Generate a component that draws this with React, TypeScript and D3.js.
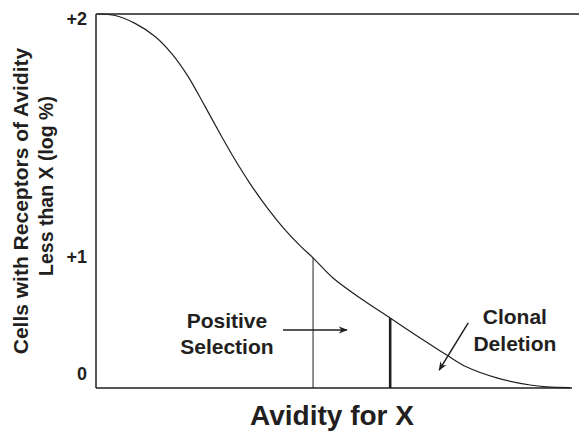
import * as d3 from "d3";

// curve: avidity (0-100) vs position within plot height (0-100)
const avidity = [0.4, 4.0, 8.2, 12.4, 16.0, 19.3, 22.9, 26.5, 28.8, 32.4, 35.9, 39.3, 42.9, 45.6, 49.8, 56.1, 61.8, 68.1, 73.7, 77.9, 84.2, 91.2, 94.7, 99.6];
const cells = [100, 99.6, 97.5, 94.0, 89.3, 83.4, 75.3, 67.0, 61.9, 54.6, 48.3, 42.9, 38.0, 34.8, 29.4, 23.5, 18.7, 13.4, 8.8, 5.6, 2.7, 0.8, 0.3, 0.1];

const yTickLabels = ["+2", "+1", "0"];
const yTickValues = [98.4, 34.8, 3.5];

// selection thresholds (avidity) and their line widths
const thresholds = [45.6, 61.8];
const thresholdWidths = [1, 2.6];

// annotation text + arrows (data units)
const positiveLines = ["Positive", "Selection"];
const positiveAt = [27.5, 16];
const positiveArrow = [[39.3, 15.5], [52.7, 15.5]];
const clonalLines = ["Clonal", "Deletion"];
const clonalAt = [88, 17];
const clonalArrow = [[78.2, 17.4], [72.1, 4.8]];

const W = 579;
const H = 432;
const ink = "#231f20";
const font = "'Liberation Sans', Arial, Helvetica, sans-serif";

export default function App() {
  const margin = { top: 14, right: 7, bottom: 44, left: 96 };
  const x = d3.scaleLinear().domain([0, 100]).range([margin.left, W - margin.right]);
  const y = d3.scaleLinear().domain([0, 100]).range([H - margin.bottom, margin.top]);

  const pts = avidity.map((a, i) => [a, cells[i]] as [number, number]);
  const line = d3.line<[number, number]>()
    .x((d) => x(d[0]))
    .y((d) => y(d[1]))
    .curve(d3.curveCatmullRom.alpha(0.5));

  const x0 = x(0);
  const yTop = y(100);
  const yBot = y(0);

  return (
    <svg width={W} height={H} style={{ position: "absolute", left: 0, top: 0, background: "white" }} fontFamily={font}>
      <defs>
        <marker id="head" viewBox="0 0 10 10" refX="9" refY="5" markerWidth="9" markerHeight="9" markerUnits="userSpaceOnUse" orient="auto">
          <path d="M0,1 L10,5 L0,9 L3,5 Z" fill={ink} />
        </marker>
      </defs>

      {/* frame */}
      <line x1={x0} x2={W} y1={yTop} y2={yTop} stroke={ink} strokeWidth={1.5} />
      <line x1={x0} x2={x0} y1={yTop} y2={yBot} stroke={ink} strokeWidth={1.5} />
      <line x1={x0} x2={x(100)} y1={yBot} y2={yBot} stroke={ink} strokeWidth={1.5} />

      {/* y tick labels */}
      {yTickLabels.map((t, i) => (
        <text key={t} x={x0 - 9} y={y(yTickValues[i])} textAnchor="end" dominantBaseline="middle"
          fontSize={18} fontWeight="bold" fill={ink}>{t}</text>
      ))}

      {/* y title */}
      <g transform={`translate(28,201) rotate(-90)`}>
        <text x={0} y={0} textAnchor="middle" fontSize={21} fontWeight="bold" fill={ink}>
          Cells with Receptors of Avidity
        </text>
      </g>
      <g transform={`translate(53,186) rotate(-90)`}>
        <text x={0} y={0} textAnchor="middle" fontSize={19.5} fontWeight="bold" fill={ink}>
          Less than X (log %)
        </text>
      </g>

      {/* x title */}
      <text x={332} y={425} textAnchor="middle" fontSize={28} fontWeight="bold" fill={ink}>Avidity for X</text>

      {/* curve */}
      <path d={line(pts) ?? ""} fill="none" stroke={ink} strokeWidth={1.2} />

      {/* thresholds */}
      {thresholds.map((t, i) => {
        const idx = avidity.indexOf(t);
        return (
          <line key={t} x1={x(t)} x2={x(t)} y1={yBot} y2={y(cells[idx])} stroke={ink} strokeWidth={thresholdWidths[i]} />
        );
      })}

      {/* annotations */}
      {positiveLines.map((s, i) => (
        <text key={s} x={x(positiveAt[0])} y={y(positiveAt[1]) + i * 26} textAnchor="middle"
          fontSize={21} fontWeight="bold" fill={ink}>{s}</text>
      ))}
      <line x1={x(positiveArrow[0][0])} y1={y(positiveArrow[0][1])} x2={x(positiveArrow[1][0])} y2={y(positiveArrow[1][1])}
        stroke={ink} strokeWidth={1.5} markerEnd="url(#head)" />

      {clonalLines.map((s, i) => (
        <text key={s} x={x(clonalAt[0])} y={y(clonalAt[1]) + i * 27} textAnchor="middle"
          fontSize={21} fontWeight="bold" fill={ink}>{s}</text>
      ))}
      <line x1={x(clonalArrow[0][0])} y1={y(clonalArrow[0][1])} x2={x(clonalArrow[1][0])} y2={y(clonalArrow[1][1])}
        stroke={ink} strokeWidth={1.5} markerEnd="url(#head)" />
    </svg>
  );
}
